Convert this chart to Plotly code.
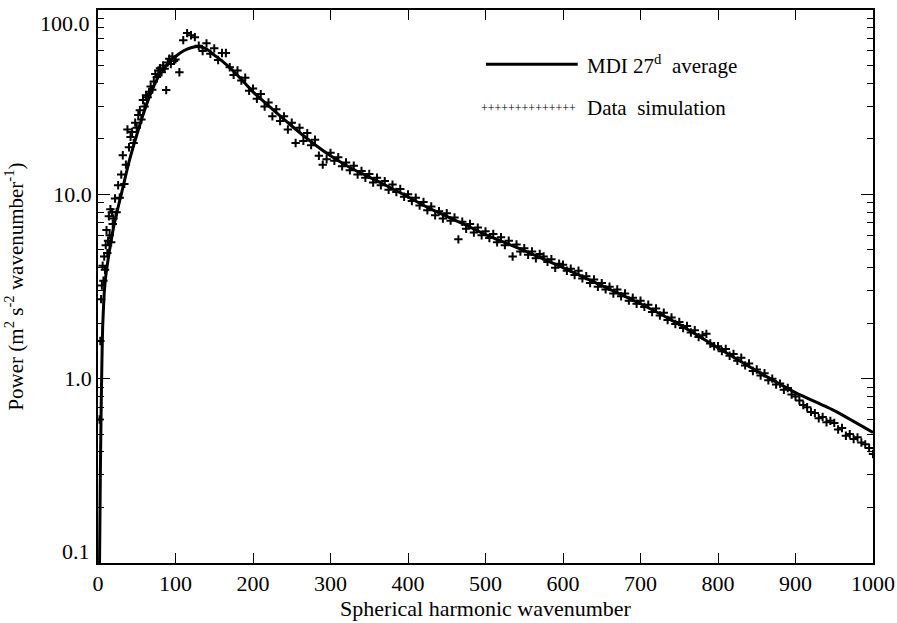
import plotly.graph_objects as go

# ---- MDI 27-day average (solid line) ----
mdi_l = [2, 3, 4, 5, 6, 8, 10, 15, 20, 25, 30, 40, 50, 60, 70, 80, 90, 100, 110, 120,
         130, 140, 150, 160, 175, 190, 200, 225, 250, 275, 300, 325, 350, 375, 400,
         425, 450, 475, 500, 550, 600, 650, 700, 750, 800, 850, 900, 950, 1000]
mdi_power = [0.1, 0.3, 0.65, 1.2, 1.9, 2.9, 3.6, 5.0, 6.6, 8.2, 10.0, 15.0, 21.0, 28.5,
             37.0, 45.0, 51.0, 56.0, 60.0, 62.5, 63.5, 61.5, 57.0, 53.0, 46.5, 40.0,
             36.0, 29.0, 23.5, 19.3, 16.2, 14.0, 12.4, 11.0, 9.7, 8.5, 7.6, 6.8, 6.05,
             4.95, 4.0, 3.2, 2.55, 1.97, 1.47, 1.1, 0.84, 0.67, 0.51]

# ---- Data simulation (+ markers) ----
sim_l_low = [2, 3, 4, 5, 6, 7, 8, 9, 10, 11, 12, 13, 14, 15, 16, 17, 18, 19, 20]
sim_power_low = [0.6, 1.6, 2.7, 3.2, 4.1, 3.4, 4.6, 3.9, 5.3, 6.4, 4.8, 5.6, 7.6, 6.0,
                 8.3, 5.5, 8.0, 6.9, 7.4]

sim_l_rise = list(range(22, 100, 2))
sim_power_rise = [9.5, 8.0, 11.2, 9.6, 12.8, 16.3, 11.4, 14.5, 22.5, 18.0, 20.5, 21.8,
                  19.0, 24.5, 23.0, 27.0, 28.6, 25.5, 32.5, 30.0, 34.5, 33.7, 36.0,
                  38.5, 37.0, 41.0, 45.0, 43.3, 47.0, 48.4, 46.0, 50.0, 48.0, 36.8,
                  52.0, 54.5, 51.0, 56.0, 53.0]

sim_l_main = list(range(100, 1001, 5))
sim_power_main = [
    54, 46, 68.7, 75, 73, 71.3, 64, 60, 66, 58,
    62, 53.6, 58.5, 58.5, 49, 44.5, 47, 41.5, 43, 36.5,
    37.5, 33, 35, 30, 31.5, 26.5, 29, 25, 26.5, 22.5,
    24.5, 19, 23, 19.5, 21.5, 18.5, 19.8, 16.2, 14.5, 15.5,
    16.8, 15.2, 15.9, 14.2, 14.9, 13.5, 14.3, 12.8, 13.4, 12.3,
    12.9, 11.6, 12.3, 11.2, 11.8, 10.6, 11.3, 10.3, 10.7, 9.7,
    10.0, 9.2, 9.6, 8.7, 9.1, 8.2, 8.6, 7.7, 8.1, 7.4,
    7.9, 7.2, 7.5, 5.7, 7.1, 6.5, 6.9, 6.2, 6.6, 6.0,
    6.3, 5.8, 6.1, 5.5, 5.85, 5.3, 5.6, 4.6, 5.35, 4.9,
    5.1, 4.7, 4.9, 4.5, 4.75, 4.6, 4.3, 4.45, 4.0, 4.2,
    4.15, 3.85, 3.95, 3.65, 3.85, 3.5, 3.6, 3.3, 3.45, 3.15,
    3.3, 3.05, 3.15, 2.9, 3.05, 2.8, 2.9, 2.65, 2.75, 2.55,
    2.65, 2.45, 2.52, 2.3, 2.4, 2.2, 2.28, 2.08, 2.15, 1.98,
    2.03, 1.88, 1.93, 1.78, 1.83, 1.68, 1.72, 1.75, 1.55, 1.5,
    1.5, 1.41, 1.45, 1.33, 1.36, 1.25, 1.3, 1.18, 1.21, 1.1,
    1.12, 1.04, 1.07, 0.98, 1.0, 0.93, 0.94, 0.87, 0.89, 0.82,
    0.8, 0.76, 0.72, 0.7, 0.66, 0.65, 0.61, 0.62, 0.58, 0.59,
    0.575, 0.53, 0.54, 0.49, 0.5, 0.47, 0.48, 0.45, 0.44, 0.42, 0.39,
]

sim_l = sim_l_low + sim_l_rise + sim_l_main
sim_power = sim_power_low + sim_power_rise + sim_power_main

x_ticks = [0, 100, 200, 300, 400, 500, 600, 700, 800, 900, 1000]
y_ticks = [0.1, 1, 10, 100]
y_tick_text = ["0.1", "1.0", "10.0", "100.0"]
y_minor = [m * d for d in (0.1, 1, 10) for m in range(2, 10)]

FONT = "Liberation Serif"

fig = go.Figure()
fig.add_trace(go.Scatter(
    x=sim_l, y=sim_power, mode="markers", name="Data simulation",
    marker=dict(symbol="cross-thin", size=6, color="black",
                line=dict(width=2, color="black")),
    showlegend=False,
))
fig.add_trace(go.Scatter(
    x=mdi_l, y=mdi_power, mode="lines", name="MDI 27d average",
    line=dict(color="black", width=3, shape="spline", smoothing=0.5),
    showlegend=False,
))

axis_common = dict(
    showline=True, linecolor="black", linewidth=1.5, mirror="ticks",
    ticks="inside", tickcolor="black", tickwidth=1,
    showgrid=False, zeroline=False,
    tickfont=dict(family=FONT, size=22, color="black"),
)

fig.update_xaxes(
    range=[0, 1000], tickvals=x_ticks, ticklen=10,
    title=dict(text="Spherical harmonic wavenumber",
               font=dict(family=FONT, size=22, color="black"), standoff=2),
    **axis_common,
)
# end labels 0.1 / 100.0 sit inside the axis span, as in the original
fig.update_yaxes(
    type="log", range=[-1.0005, 2.0005], tickvals=y_ticks,
    ticktext=["", y_tick_text[1], y_tick_text[2], ""],
    ticklen=12,
    minor=dict(tickvals=y_minor, ticks="inside", ticklen=6,
               tickcolor="black", tickwidth=1, showgrid=False),
    title=dict(text="Power (m<sup>2</sup> s<sup>-2</sup> wavenumber<sup>-1</sup>)",
               font=dict(family=FONT, size=21, color="black"), standoff=24),
    **axis_common,
)
fig.add_annotation(xref="paper", yref="paper", x=0, y=1, xshift=-6, yshift=1,
                   xanchor="right", yanchor="top", showarrow=False,
                   text=y_tick_text[3],
                   font=dict(family=FONT, size=22, color="black"))
fig.add_annotation(xref="paper", yref="paper", x=0, y=0, xshift=-6, yshift=-3,
                   xanchor="right", yanchor="bottom", showarrow=False,
                   text=y_tick_text[0],
                   font=dict(family=FONT, size=22, color="black"))

# hand-drawn style legend in the upper right
fig.add_shape(type="line", xref="paper", yref="paper",
              x0=0.5006, x1=0.619, y0=0.902, y1=0.902,
              line=dict(color="black", width=3))
fig.add_annotation(xref="paper", yref="paper", x=0.628, y=0.902,
                   xanchor="left", yanchor="middle", showarrow=False,
                   text="MDI 27<sup>d</sup>  average",
                   font=dict(family=FONT, size=21, color="black"))
fig.add_annotation(xref="paper", yref="paper", x=0.619, y=0.823,
                   xanchor="right", yanchor="middle", showarrow=False,
                   text="+" * 14,
                   font=dict(family=FONT, size=12, color="black"))
fig.add_annotation(xref="paper", yref="paper", x=0.628, y=0.823,
                   xanchor="left", yanchor="middle", showarrow=False,
                   text="Data  simulation",
                   font=dict(family=FONT, size=21, color="black"))

fig.update_layout(
    width=897, height=623,
    margin=dict(l=98, r=24, t=10, b=60, autoexpand=False),
    paper_bgcolor="white", plot_bgcolor="white",
    font=dict(family=FONT, color="black"),
)

fig.write_html("out.html",
               config={"displayModeBar": False},
               post_script="document.body.style.margin='0px';"
                           "document.body.style.overflow='hidden';")
